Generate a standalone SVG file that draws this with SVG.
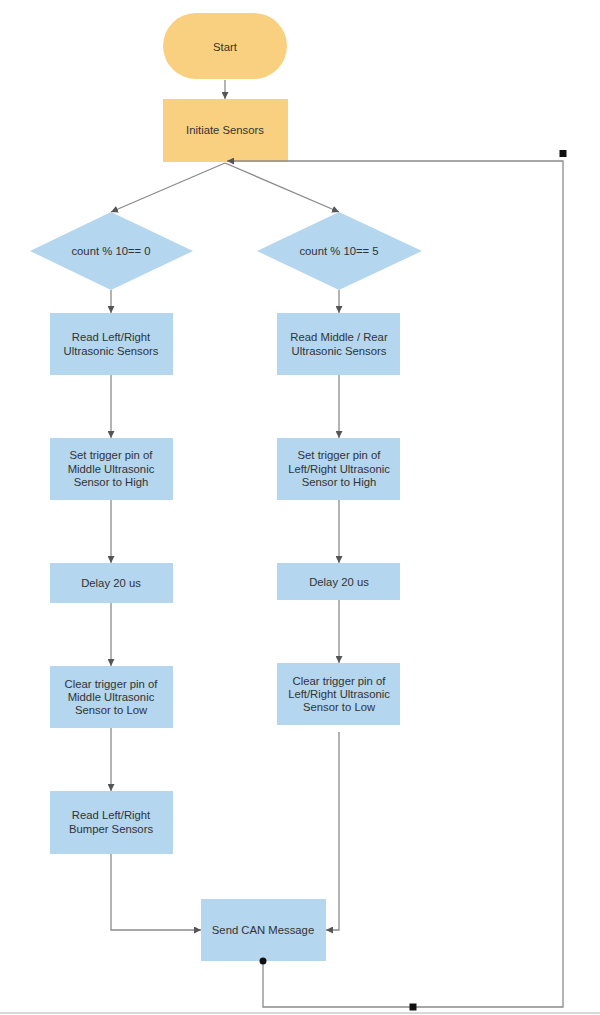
<svg xmlns="http://www.w3.org/2000/svg" width="600" height="1015" viewBox="0 0 600 1015">
<defs>
<marker id="arr" viewBox="0 0 10 10" refX="10" refY="5" markerWidth="7" markerHeight="7" orient="auto" markerUnits="userSpaceOnUse">
<path d="M0,0 L10,5 L0,10 Z" fill="#555"/>
</marker>
</defs>
<style>
.term{fill:#F9D07F;}
.proc{fill:#B4D6EE;}
.dec{fill:#B4D6EE;}
.t{font-family:"Liberation Sans",Arial,sans-serif;font-size:11.3px;fill:#333;text-anchor:middle;}
.c{fill:none;stroke:#8a8a8a;stroke-width:1.3;}
.ca{fill:none;stroke:#8a8a8a;stroke-width:1.3;marker-end:url(#arr);}
</style>
<rect width="600" height="1015" fill="#fff"/>
<g id="start">
<rect class="term" x="163" y="13" width="124" height="66" rx="33" ry="33"/>
<text class="t" x="225" y="51">Start</text>
</g>
<g id="initiate">
<rect class="term" x="163" y="99" width="125" height="63"/>
<text class="t" x="225" y="134">Initiate Sensors</text>
</g>
<g id="dec-left">
<polygon class="dec" points="111,212 193,251 111,290 30,251"/>
<text class="t" x="111" y="255">count % 10== 0</text>
</g>
<g id="dec-right">
<polygon class="dec" points="339,212 422,251 339,290 257,251"/>
<text class="t" x="339" y="255">count % 10== 5</text>
</g>
<g id="l1">
<rect class="proc" x="50" y="313" width="123" height="62"/>
<text class="t" x="111" y="341">Read Left/Right</text>
<text class="t" x="111" y="355">Ultrasonic Sensors</text>
</g>
<g id="r1">
<rect class="proc" x="277" y="313" width="123" height="62"/>
<text class="t" x="339" y="341">Read Middle / Rear</text>
<text class="t" x="339" y="355">Ultrasonic Sensors</text>
</g>
<g id="l2">
<rect class="proc" x="50" y="438" width="123" height="62"/>
<text class="t" x="111" y="459">Set trigger pin of</text>
<text class="t" x="111" y="473">Middle Ultrasonic</text>
<text class="t" x="111" y="486">Sensor to High</text>
</g>
<g id="r2">
<rect class="proc" x="277" y="438" width="123" height="62"/>
<text class="t" x="339" y="459">Set trigger pin of</text>
<text class="t" x="339" y="473">Left/Right Ultrasonic</text>
<text class="t" x="339" y="486">Sensor to High</text>
</g>
<g id="l3">
<rect class="proc" x="50" y="563" width="123" height="40"/>
<text class="t" x="111" y="587">Delay 20 us</text>
</g>
<g id="r3">
<rect class="proc" x="277" y="563" width="123" height="37"/>
<text class="t" x="339" y="586">Delay 20 us</text>
</g>
<g id="l4">
<rect class="proc" x="50" y="666" width="123" height="62"/>
<text class="t" x="111" y="688">Clear trigger pin of</text>
<text class="t" x="111" y="701">Middle Ultrasonic</text>
<text class="t" x="111" y="714">Sensor to Low</text>
</g>
<g id="r4">
<rect class="proc" x="277" y="663" width="123" height="62"/>
<text class="t" x="339" y="685">Clear trigger pin of</text>
<text class="t" x="339" y="698">Left/Right Ultrasonic</text>
<text class="t" x="339" y="711">Sensor to Low</text>
</g>
<g id="l5">
<rect class="proc" x="50" y="791" width="123" height="63"/>
<text class="t" x="111" y="819">Read Left/Right</text>
<text class="t" x="111" y="833">Bumper Sensors</text>
</g>
<g id="send">
<rect class="proc" x="201" y="899" width="125" height="62"/>
<text class="t" x="263" y="934">Send CAN Message</text>
</g>
<g id="connectors">
<line class="ca" x1="225" y1="80" x2="225" y2="99"/>
<line class="ca" x1="225" y1="163" x2="111" y2="212"/>
<line class="ca" x1="225" y1="163" x2="339" y2="212"/>
<line class="ca" x1="111" y1="290" x2="111" y2="313"/>
<line class="ca" x1="111" y1="375" x2="111" y2="438"/>
<line class="ca" x1="111" y1="500" x2="111" y2="563"/>
<line class="ca" x1="111" y1="603" x2="111" y2="666"/>
<line class="ca" x1="111" y1="728" x2="111" y2="791"/>
<polyline class="ca" points="111,854 111,930 201,930"/>
<line class="ca" x1="339" y1="290" x2="339" y2="313"/>
<line class="ca" x1="339" y1="375" x2="339" y2="438"/>
<line class="ca" x1="339" y1="500" x2="339" y2="563"/>
<line class="ca" x1="339" y1="600" x2="339" y2="663"/>
<polyline class="ca" points="339,732 339,930 326,930"/>
<polyline class="ca" points="263,961 263,1007 563,1007 563,161 227,161"/>
<circle cx="263" cy="961" r="3.5" fill="#111"/>
<rect x="409.5" y="1003.5" width="7" height="7" fill="#111"/>
<rect x="559.5" y="150" width="7" height="7" fill="#111"/>
<line x1="0" y1="1013" x2="600" y2="1013" stroke="#ccc" stroke-width="1.5"/>
</g>
</svg>
